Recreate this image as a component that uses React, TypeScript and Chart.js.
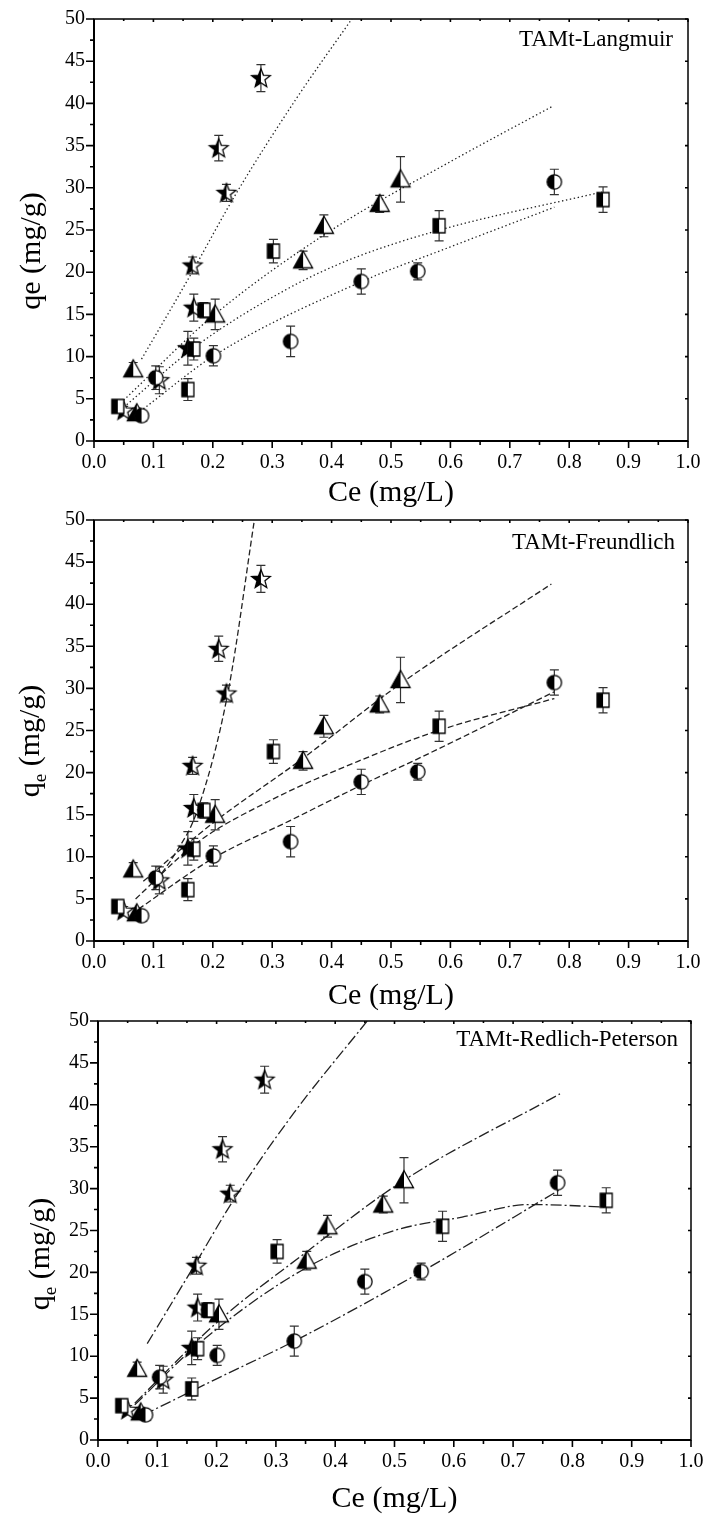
import React, { useEffect, useRef } from "react";
import { Chart, registerables } from "chart.js";
Chart.register(...registerables);

// ---------- measured data (shared by the three panels) ----------
const sqX = [0.040, 0.158, 0.168, 0.185, 0.302, 0.581, 0.857];
const sqY = [4.1, 6.1, 10.9, 15.5, 22.5, 25.5, 28.6];
const sqErr = [0.5, 1.3, 1.3, 0.9, 1.4, 1.8, 1.5];

const ciX = [0.080, 0.104, 0.201, 0.331, 0.450, 0.545, 0.775];
const ciY = [3.0, 7.5, 10.1, 11.8, 18.9, 20.1, 30.7];
const ciErr = [0.6, 1.4, 1.2, 1.8, 1.5, 1.0, 1.5];

const trX = [0.072, 0.066, 0.204, 0.352, 0.387, 0.481, 0.516];
const trY = [3.3, 8.5, 15.0, 21.4, 25.5, 28.1, 31.0];
const trErr = [0.6, 0.8, 1.8, 1.1, 1.3, 1.0, 2.7];

const stX = [0.050, 0.110, 0.158, 0.168, 0.166, 0.210, 0.223, 0.281];
const stY = [3.6, 7.2, 11.0, 15.8, 20.8, 34.7, 29.4, 43.0];
const stErr = [0.5, 1.6, 2.0, 1.6, 1.0, 1.5, 1.0, 1.6];

// ---------- fitted curves ----------
// Langmuir
const L_stX = [0.080, 0.157, 0.240, 0.340, 0.434];
const L_stY = [9.7, 19.0, 29.4, 40.5, 50.0];
const L_trX = [0.045, 0.200, 0.400, 0.600, 0.773];
const L_trY = [4.5, 14.8, 25.0, 33.1, 39.7];
const L_sqX = [0.050, 0.173, 0.325, 0.431, 0.582, 0.855];
const L_sqY = [4.0, 11.3, 18.0, 21.5, 25.0, 29.5];
const L_ciX = [0.083, 0.204, 0.451, 0.600, 0.775];
const L_ciY = [3.8, 10.2, 18.9, 23.0, 27.7];
// Freundlich
const F_stX = [0.105, 0.136, 0.174, 0.226, 0.270];
const F_stY = [7.2, 10.3, 15.5, 29.7, 50.0];
const F_trX = [0.083, 0.200, 0.350, 0.515, 0.770];
const F_trY = [7.1, 14.0, 21.6, 30.5, 42.4];
const F_sqX = [0.070, 0.170, 0.300, 0.450, 0.580, 0.775];
const F_sqY = [5.0, 11.5, 16.8, 21.5, 25.0, 28.8];
const F_ciX = [0.075, 0.200, 0.330, 0.450, 0.550, 0.775];
const F_ciY = [3.8, 9.8, 14.3, 18.5, 21.8, 29.6];
// Redlich-Peterson
const R_stX = [0.083, 0.164, 0.230, 0.330, 0.454];
const R_stY = [11.5, 21.0, 28.8, 39.0, 50.0];
const R_trX = [0.062, 0.200, 0.349, 0.516, 0.779];
const R_trY = [4.4, 14.0, 22.3, 31.0, 41.3];
const R_sqX = [0.062, 0.170, 0.350, 0.500, 0.614, 0.728, 0.858];
const R_sqY = [4.2, 11.5, 20.5, 25.0, 26.6, 28.1, 27.8];
const R_ciX = [0.077, 0.200, 0.331, 0.546, 0.777];
const R_ciY = [3.0, 7.3, 11.8, 20.1, 29.8];

// axis ticks
const xTicks = [0, 0.1, 0.2, 0.3, 0.4, 0.5, 0.6, 0.7, 0.8, 0.9, 1.0];
const yTicks = [0, 5, 10, 15, 20, 25, 30, 35, 40, 45, 50];

const FONT = '"Liberation Serif", "Times New Roman", serif';

function makeMarker(kind: string): HTMLCanvasElement {
  const S = 24;
  const c = document.createElement("canvas");
  c.width = S;
  c.height = S;
  const g = c.getContext("2d")!;
  const cx = S / 2, cy = S / 2;
  const path = () => {
    g.beginPath();
    if (kind === "square") g.rect(cx - 6, cy - 7, 12, 14);
    else if (kind === "circle") g.arc(cx, cy, 7.2, 0, Math.PI * 2);
    else if (kind === "triangle") {
      g.moveTo(cx, cy - 9.5);
      g.lineTo(cx + 9.5, cy + 7.5);
      g.lineTo(cx - 9.5, cy + 7.5);
      g.closePath();
    } else {
      for (let i = 0; i < 10; i++) {
        const r = i % 2 === 0 ? 9.8 : 4.2;
        const a = -Math.PI / 2 + (i * Math.PI) / 5;
        const px = cx + r * Math.cos(a), py = cy + 0.5 + r * Math.sin(a);
        if (i === 0) g.moveTo(px, py);
        else g.lineTo(px, py);
      }
      g.closePath();
    }
  };
  path();
  g.fillStyle = "#fff";
  g.fill();
  g.save();
  g.beginPath();
  g.rect(0, 0, cx, S);
  g.clip();
  path();
  g.fillStyle = "#000";
  g.fill();
  g.restore();
  path();
  g.lineWidth = 1.3;
  g.strokeStyle = "#000";
  g.stroke();
  return c;
}

type Panel = {
  top: number;
  height: number;
  left: number;
  right: number;
  chartTop: number;
  chartBottom: number;
  label: string;
  labelRight: number;
  labelBase: number;
  dash: number[];
  fits: { x: number[]; y: number[] }[];
  sub: boolean;
  yTitleX: number;
  yTitleY: number;
  xTitleY: number;
};

const panels: Panel[] = [
  {
    top: 0, height: 520, left: 94, right: 688, chartTop: 19, chartBottom: 441,
    label: "TAMt-Langmuir", labelRight: 673, labelBase: 46, dash: [1.4, 2.6],
    fits: [{ x: L_stX, y: L_stY }, { x: L_trX, y: L_trY }, { x: L_sqX, y: L_sqY }, { x: L_ciX, y: L_ciY }],
    sub: false, yTitleX: 30, yTitleY: 251, xTitleY: 493,
  },
  {
    top: 500, height: 520, left: 94, right: 688, chartTop: 20, chartBottom: 441,
    label: "TAMt-Freundlich", labelRight: 675, labelBase: 49, dash: [6, 3],
    fits: [{ x: F_stX, y: F_stY }, { x: F_trX, y: F_trY }, { x: F_sqX, y: F_sqY }, { x: F_ciX, y: F_ciY }],
    sub: true, yTitleX: 29, yTitleY: 241, xTitleY: 496,
  },
  {
    top: 1000, height: 514, left: 98, right: 691, chartTop: 21, chartBottom: 440,
    label: "TAMt-Redlich-Peterson", labelRight: 678, labelBase: 46, dash: [11, 3, 2, 3],
    fits: [{ x: R_stX, y: R_stY }, { x: R_trX, y: R_trY }, { x: R_sqX, y: R_sqY }, { x: R_ciX, y: R_ciY }],
    sub: true, yTitleX: 39, yTitleY: 254, xTitleY: 499,
  },
];

function PanelChart({ p }: { p: Panel }) {
  const ref = useRef<HTMLCanvasElement | null>(null);
  useEffect(() => {
    const canvas = ref.current!;
    const markers: Record<string, HTMLCanvasElement> = {
      square: makeMarker("square"),
      circle: makeMarker("circle"),
      triangle: makeMarker("triangle"),
      star: makeMarker("star"),
    };
    const series = [
      { kind: "square", x: sqX, y: sqY, e: sqErr },
      { kind: "circle", x: ciX, y: ciY, e: ciErr },
      { kind: "triangle", x: trX, y: trY, e: trErr },
      { kind: "star", x: stX, y: stY, e: stErr },
    ];
    const datasets: any[] = [
      ...series.map((s) => ({
        data: s.x.map((x, i) => ({ x, y: s.y[i] })),
        errY: s.e,
        pointStyle: markers[s.kind],
        pointRadius: 8,
        showLine: false,
        clip: false,
      })),
      ...p.fits.map((f) => ({
        data: f.x.map((x, i) => ({ x, y: f.y[i] })),
        showLine: true,
        pointRadius: 0,
        borderColor: "#222",
        borderWidth: 1.3,
        borderDash: p.dash,
        cubicInterpolationMode: "monotone",
        clip: 0,
      })),
    ];

    const plugin = {
      id: "decor",
      beforeDatasetsDraw(chart: any) {
        const ctx = chart.ctx;
        const xs = chart.scales.x, ys = chart.scales.y;
        ctx.save();
        ctx.strokeStyle = "#333";
        ctx.lineWidth = 1.2;
        chart.data.datasets.forEach((ds: any) => {
          if (!ds.errY) return;
          ds.data.forEach((pt: any, i: number) => {
            const px = xs.getPixelForValue(pt.x);
            const y1 = ys.getPixelForValue(pt.y - ds.errY[i]);
            const y2 = ys.getPixelForValue(pt.y + ds.errY[i]);
            ctx.beginPath();
            ctx.moveTo(px, y1);
            ctx.lineTo(px, y2);
            ctx.moveTo(px - 4.5, y1);
            ctx.lineTo(px + 4.5, y1);
            ctx.moveTo(px - 4.5, y2);
            ctx.lineTo(px + 4.5, y2);
            ctx.stroke();
          });
        });
        ctx.restore();
      },
      afterDraw(chart: any) {
        const ctx = chart.ctx;
        const xs = chart.scales.x, ys = chart.scales.y;
        const a = chart.chartArea;
        ctx.save();
        ctx.strokeStyle = "#000";
        // frame
        ctx.lineWidth = 1.5;
        ctx.strokeRect(a.left, a.top, a.right - a.left, a.bottom - a.top);
        ctx.lineWidth = 2;
        ctx.beginPath();
        ctx.moveTo(a.left, a.top);
        ctx.lineTo(a.left, a.bottom);
        ctx.lineTo(a.right, a.bottom);
        ctx.stroke();
        // ticks
        ctx.lineWidth = 1.6;
        ctx.beginPath();
        for (let i = 0; i <= 20; i++) {
          const px = xs.getPixelForValue(i * 0.05);
          const major = i % 2 === 0;
          ctx.moveTo(px, a.bottom);
          ctx.lineTo(px, a.bottom + (major ? 7 : 4));
          ctx.moveTo(px, a.top);
          ctx.lineTo(px, a.top + (major ? 3 : 2));
        }
        for (let i = 0; i <= 20; i++) {
          const py = ys.getPixelForValue(i * 2.5);
          const major = i % 2 === 0;
          ctx.moveTo(a.left, py);
          ctx.lineTo(a.left - (major ? 8 : 4), py);
          if (major) {
            ctx.moveTo(a.right, py);
            ctx.lineTo(a.right - 3, py);
          }
        }
        ctx.stroke();
        // texts
        ctx.fillStyle = "#000";
        ctx.font = `23px ${FONT}`;
        ctx.textAlign = "right";
        ctx.textBaseline = "alphabetic";
        ctx.fillText(p.label, p.labelRight, p.labelBase);
        ctx.font = `30px ${FONT}`;
        ctx.textAlign = "center";
        ctx.textBaseline = "middle";
        ctx.fillText("Ce (mg/L)", (a.left + a.right) / 2, p.xTitleY);
        // y title
        ctx.translate(p.yTitleX, p.yTitleY);
        ctx.rotate(-Math.PI / 2);
        ctx.textAlign = "left";
        ctx.textBaseline = "alphabetic";
        const big = `30px ${FONT}`, small = `19px ${FONT}`;
        if (p.sub) {
          ctx.font = big;
          const wq = ctx.measureText("q").width;
          const wr = ctx.measureText(" (mg/g)").width;
          ctx.font = small;
          const we = ctx.measureText("e").width;
          const tot = wq + we + wr;
          let x0 = -tot / 2;
          ctx.font = big;
          ctx.fillText("q", x0, 10);
          x0 += wq;
          ctx.font = small;
          ctx.fillText("e", x0, 17);
          x0 += we;
          ctx.font = big;
          ctx.fillText(" (mg/g)", x0, 10);
        } else {
          ctx.font = big;
          ctx.textAlign = "center";
          ctx.fillText("qe (mg/g)", 0, 10);
        }
        ctx.restore();
      },
    };

    const chart = new Chart(canvas, {
      type: "scatter",
      data: { datasets },
      options: {
        responsive: false,
        animation: false,
        events: [],
        layout: { padding: { top: p.chartTop, right: 704 - p.right, left: 0, bottom: 0 } },
        plugins: { legend: { display: false }, tooltip: { enabled: false } },
        scales: {
          x: {
            type: "linear",
            min: 0,
            max: 1,
            border: { display: false },
            grid: { display: false, drawTicks: false },
            afterBuildTicks: (s: any) => {
              s.ticks = xTicks.map((v) => ({ value: v }));
            },
            ticks: {
              color: "#000",
              font: { family: FONT, size: 20 },
              padding: 10,
              maxRotation: 0,
              autoSkip: false,
              callback: (v: any) => Number(v).toFixed(1),
            },
            afterFit: (s: any) => {
              s.height = p.height - p.chartBottom;
              s.paddingLeft = 0;
              s.paddingRight = 0;
            },
          },
          y: {
            type: "linear",
            min: 0,
            max: 50,
            border: { display: false },
            grid: { display: false, drawTicks: false },
            afterBuildTicks: (s: any) => {
              s.ticks = yTicks.map((v) => ({ value: v }));
            },
            ticks: {
              color: "#000",
              font: { family: FONT, size: 20 },
              padding: 9,
              autoSkip: false,
              callback: (v: any) => String(v),
            },
            afterFit: (s: any) => {
              s.width = p.left;
              s.paddingTop = 0;
              s.paddingBottom = 0;
            },
          },
        },
      },
      plugins: [plugin],
    } as any);
    return () => chart.destroy();
  }, [p]);
  return (
    <canvas
      ref={ref}
      width={704}
      height={p.height}
      style={{ position: "absolute", left: 0, top: p.top, width: 704, height: p.height, display: "block" }}
    />
  );
}

export default function App() {
  return (
    <div style={{ position: "absolute", left: 0, top: 0, width: 704, height: 1514, background: "#fff", overflow: "hidden" }}>
      {panels.map((p, i) => (
        <PanelChart key={i} p={p} />
      ))}
    </div>
  );
}
